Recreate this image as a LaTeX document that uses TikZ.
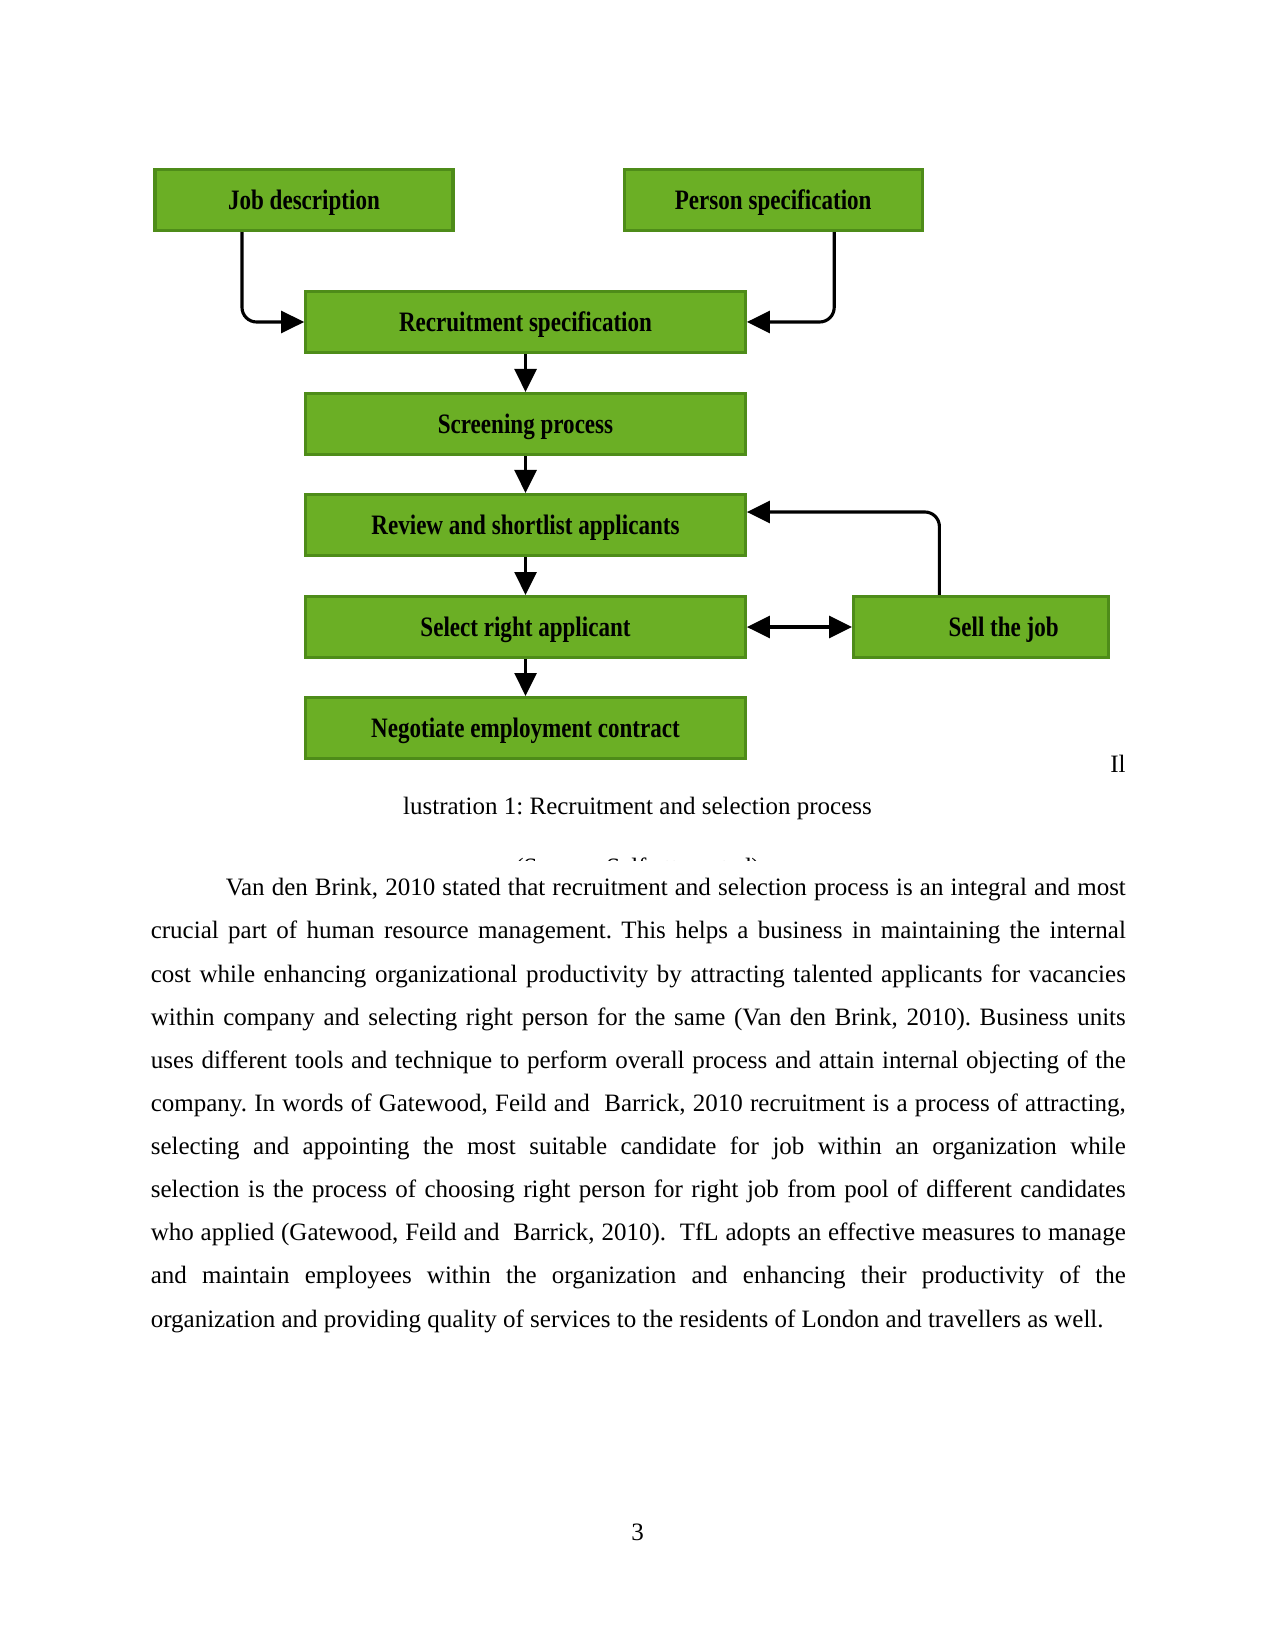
\documentclass[tikz,border=0pt]{standalone}
\usepackage{fontspec}
\setmainfont{Liberation Serif}
\newfontfamily\boxfont{Liberation Serif}[FakeStretch=0.82]
\usetikzlibrary{arrows.meta,calc}
\definecolor{boxfill}{RGB}{107,175,37}
\definecolor{boxborder}{RGB}{78,140,25}
\frenchspacing
\begin{document}
\begin{tikzpicture}[x=0.48pt,y=-0.48pt,
  box/.style={draw=boxborder,fill=boxfill,line width=1.5pt,minimum height=29.3pt,inner sep=0pt,text height=11.5pt,text depth=2.2pt,font=\boxfont\bfseries\fontsize{13.5}{15}\selectfont,text=black},
  arr/.style={line width=1.5pt,-{Triangle[length=11pt,width=10.5pt]}},
  dbl/.style={line width=1.5pt,{Triangle[length=11pt,width=10.5pt]}-{Triangle[length=11pt,width=10.5pt]}},
  body/.style={font=\fontsize{12}{20.7}\selectfont,inner sep=0pt}]
\useasboundingbox (0,0) rectangle (1275,1650);
\node[box,minimum width=143pt] (job) at (304,200) {Job description};
\node[box,minimum width=143pt] (per) at (773.2,200) {Person specification};
\node[box,minimum width=211pt] (rec) at (525.5,322) {Recruitment specification};
\node[box,minimum width=211pt] (scr) at (525.5,424) {Screening process};
\node[box,minimum width=211pt] (rev) at (525.5,525) {Review and shortlist applicants};
\node[box,minimum width=211pt] (sel) at (525.5,627) {Select right applicant};
\node[box,minimum width=211pt] (neg) at (525.5,728) {Negotiate employment contract};
\node[box,minimum width=122.3pt] (sell) at (981,627) {\hspace*{21.7pt}Sell the job};
\draw[arr,rounded corners=7pt] ($(job.south)+(-62,0)$) |- (rec.west);
\draw[arr,rounded corners=7pt] ($(per.south)+(61,0)$) |- (rec.east);
\draw[arr] (rec) -- (scr);
\draw[arr] (scr) -- (rev);
\draw[arr] (rev) -- (sel);
\draw[arr] (sel) -- (neg);
\draw[dbl] (sel) -- (sell);
\draw[arr,rounded corners=7pt] ($(sell.north)+(-41.6,0)$) |- ($(rev.east)+(0,-13)$);
\node[body,anchor=base] (il) at (1118,772) {Il};
\node[body,anchor=base] (cap) at (637.5,814) {lustration 1: Recruitment and selection process};
\begin{scope}
\clip (0,840) rectangle (1275,860);
\node[body,anchor=base] (src) at (637.5,875) {(Source: Self attempted)};
\end{scope}
\node[body,anchor=north west,text width=468pt,align=justify] (par) at (150.4,878) {\hspace*{36pt}Van den Brink, 2010 stated that recruitment and selection process is an integral and most\linebreak
crucial part of human resource management. This helps a business in maintaining the internal\linebreak
cost while enhancing organizational productivity by attracting talented applicants for vacancies\linebreak
within company and selecting right person for the same (Van den Brink, 2010). Business units\linebreak
uses different tools and technique to perform overall process and attain internal objecting of the\linebreak
company. In words of Gatewood, Feild and\ \ Barrick, 2010 recruitment is a process of attracting,\linebreak
selecting and appointing the most suitable candidate for job within an organization while\linebreak
selection is the process of choosing right person for right job from pool of different candidates\linebreak
who applied (Gatewood, Feild and\ \ Barrick, 2010).\ \ TfL adopts an effective measures to manage\linebreak
and maintain employees within the organization and enhancing their productivity of the\linebreak
organization and providing quality of services to the residents of London and travellers as well.};
\node[body,anchor=base] (pg) at (637.5,1540) {3};
\end{tikzpicture}
\end{document}
